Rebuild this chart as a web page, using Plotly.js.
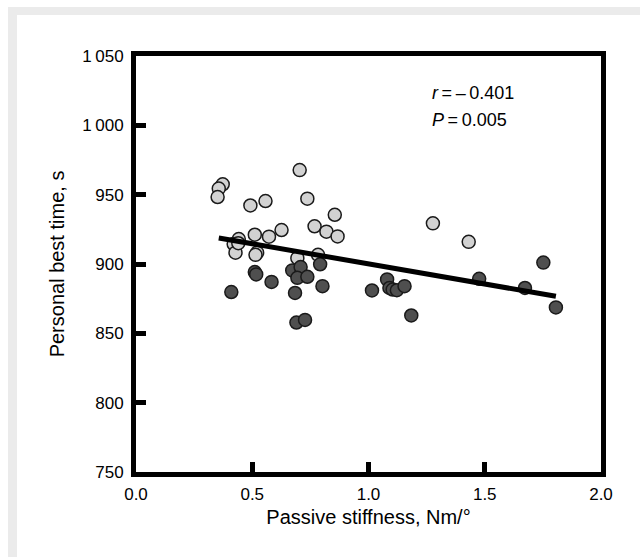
<!DOCTYPE html>
<html>
<head>
<meta charset="utf-8">
<script src="https://cdn.plot.ly/plotly-3.0.1.min.js"></script>
<style>
  html, body { margin: 0; padding: 0; background: #ffffff; }
  #wrap { position: relative; width: 640px; height: 557px; overflow: hidden; }
  #frameTop { position: absolute; left: 8px; top: 7px; width: 632px; height: 8px; background: #ebebeb; }
  #frameLeft { position: absolute; left: 8px; top: 7px; width: 9px; height: 550px; background: #ebebeb; }
  #chart { position: absolute; left: 0; top: 0; width: 640px; height: 557px; }
</style>
</head>
<body>
<div id="wrap">
  <div id="frameTop"></div>
  <div id="frameLeft"></div>
  <div id="chart"></div>
</div>
<script>
// Light grey group
const lightX = [0.704, 0.373, 0.356, 0.351, 0.492, 0.557, 0.737, 0.855, 0.768, 0.819, 0.867, 0.626, 0.572, 0.511, 0.442, 0.420, 0.428, 0.440, 0.521, 0.514, 0.694, 0.783, 1.277, 1.431];
const lightY = [967.7, 957.5, 954.4, 948.3, 942.2, 945.4, 947.1, 935.5, 927.2, 923.3, 919.9, 924.5, 919.7, 921.1, 918.0, 914.4, 908.2, 915.0, 908.2, 906.6, 904.2, 906.6, 929.3, 916.0];

// Dark grey group
const darkX = [0.511, 0.517, 0.583, 0.410, 0.672, 0.708, 0.694, 0.737, 0.792, 0.802, 0.684, 0.690, 0.727, 1.015, 1.080, 1.090, 1.104, 1.122, 1.155, 1.184, 1.476, 1.673, 1.752, 1.806];
const darkY = [894.2, 892.5, 887.1, 879.8, 895.4, 897.8, 890.0, 890.8, 899.8, 884.0, 879.1, 857.8, 859.7, 880.9, 888.9, 882.7, 881.6, 881.1, 884.0, 862.9, 889.3, 882.7, 901.0, 868.7];

// Regression line end points
const fitX = [0.356, 1.806];
const fitY = [918.8, 876.7];

// Axis ticks
const xTickVals = [0, 0.5, 1.0, 1.5, 2.0];
const xTickText = ['0.0', '0.5', '1.0', '1.5', '2.0'];
const yTickVals = [750, 800, 850, 900, 950, 1000, 1050];
const yTickText = ['750', '800', '850', '900', '950', '1\u2009000', '1\u2009050'];

const statR = '<i>r</i>\u2009=\u2009\u2013\u20090.401';
const statP = '<i>P</i>\u2009=\u20090.005';

const FONT = '"Liberation Sans", Arial, sans-serif';

const markerLine = { color: '#1a1a1a', width: 1.5 };

const traces = [
  {
    x: lightX, y: lightY, type: 'scatter', mode: 'markers',
    marker: { size: 13, color: '#d2d2d2', line: markerLine },
    hoverinfo: 'x+y', showlegend: false
  },
  {
    x: darkX, y: darkY, type: 'scatter', mode: 'markers',
    marker: { size: 13, color: '#4f4f4f', line: markerLine },
    hoverinfo: 'x+y', showlegend: false
  },
  {
    x: fitX, y: fitY, type: 'scatter', mode: 'lines',
    line: { color: '#000000', width: 5 },
    hoverinfo: 'skip', showlegend: false
  }
];

const axisCommon = {
  showgrid: false, zeroline: false,
  showline: true, linecolor: '#000000', linewidth: 5, mirror: true,
  ticks: 'inside', ticklen: 10, tickwidth: 5, tickcolor: '#000000',
  tickmode: 'array',
  tickfont: { family: FONT, size: 17, color: '#000000' }
};

const layout = {
  width: 640, height: 557,
  margin: { l: 136, r: 39, t: 56, b: 85, pad: 0 },
  paper_bgcolor: 'rgba(0,0,0,0)',
  plot_bgcolor: '#ffffff',
  font: { family: FONT, color: '#000000' },
  xaxis: Object.assign({}, axisCommon, {
    range: [0, 2], tickvals: xTickVals, ticktext: xTickText,
    ticklabelstandoff: 3,
    title: { text: 'Passive stiffness, Nm/\u00b0', font: { family: FONT, size: 20, color: '#000000' }, standoff: 8 }
  }),
  yaxis: Object.assign({}, axisCommon, {
    range: [750, 1050], tickvals: yTickVals, ticktext: yTickText,
    ticklabelstandoff: 4,
    title: { text: 'Personal best time, s', font: { family: FONT, size: 20, color: '#000000' }, standoff: 14 }
  }),
  annotations: [
    { xref: 'paper', yref: 'paper', x: 0.633, y: 0.910, xanchor: 'left', yanchor: 'middle',
      text: statR, showarrow: false, font: { family: FONT, size: 18, color: '#000000' } },
    { xref: 'paper', yref: 'paper', x: 0.633, y: 0.845, xanchor: 'left', yanchor: 'middle',
      text: statP, showarrow: false, font: { family: FONT, size: 18, color: '#000000' } }
  ]
};

Plotly.newPlot('chart', traces, layout, { displayModeBar: false, staticPlot: true });
</script>
</body>
</html>
